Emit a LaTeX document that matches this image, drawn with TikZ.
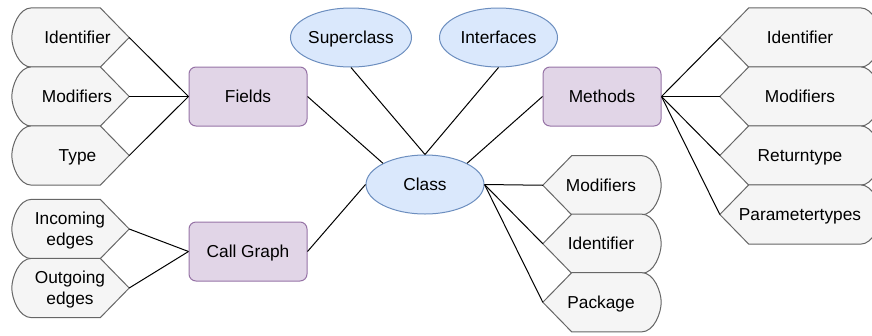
\documentclass[tikz,border=0pt]{standalone}
\usepackage{fontspec}
\setmainfont{Liberation Sans}
\usetikzlibrary{calc,shapes.geometric}
\definecolor{grayfill}{HTML}{F5F5F5}
\definecolor{graydraw}{HTML}{666666}
\definecolor{bluefill}{HTML}{DAE8FC}
\definecolor{bluedraw}{HTML}{6C8EBF}
\definecolor{purplefill}{HTML}{E1D5E7}
\definecolor{purpledraw}{HTML}{9673A6}
\tikzset{
  txt/.style={font=\fontsize{17.3}{20.5}\selectfont, text height=12.4pt, text depth=0pt},
  lbl/.style={txt, inner sep=0pt, align=center},
  twoline/.style={text height=32.9pt},
  hold/.style={rectangle, inner sep=0pt, minimum height=59pt, draw=none},
  disp/.style={draw=graydraw, fill=grayfill, line width=1pt, line join=round},
  boxst/.style={txt, rectangle, rounded corners=7pt, draw=purpledraw, fill=purplefill, line width=1pt,
    minimum width=118pt, minimum height=59pt, inner sep=0pt},
  ellst/.style={txt, ellipse, draw=bluedraw, fill=bluefill, line width=1pt,
    minimum width=118pt, minimum height=59pt, inner sep=0pt},
  conn/.style={draw=black, line width=1pt},
}
% shape pointing right (round left side)
\newcommand\dispL[7][]{%
  \node[hold, minimum width=#5pt] (#2) at (#3,#4) {};
  \draw[disp] ($(#2.north east)+(-29,0)$) -- (#2.east) -- ($(#2.south east)+(-29,0)$)
    -- ($(#2.south west)+(20,0)$) .. controls +(-13.33,0) and +(0,9.83) .. (#2.west)
    .. controls +(0,-9.83) and +(-13.33,0) .. ($(#2.north west)+(20,0)$) -- cycle;
  \node[lbl,#1] (#2t) at (#6,#4) {#7};
}
% shape pointing left (round right side)
\newcommand\dispR[6]{%
  \node[hold, minimum width=#4pt] (#1) at (#2,#3) {};
  \draw[disp] ($(#1.north west)+(29,0)$) -- (#1.west) -- ($(#1.south west)+(29,0)$)
    -- ($(#1.south east)+(-20,0)$) .. controls +(13.33,0) and +(0,9.83) .. (#1.east)
    .. controls +(0,-9.83) and +(13.33,0) .. ($(#1.north east)+(-20,0)$) -- cycle;
  \node[lbl] (#1t) at (#5,#3) {#6};
}
\begin{document}
\begin{tikzpicture}[x=1pt,y=-1pt]
\useasboundingbox (0,0) rectangle (872,335);

% central nodes
\node[ellst] (super) at (351,37.5) {Superclass};
\node[ellst] (inter) at (498.5,37.5) {Interfaces};
\node[ellst] (class) at (425,184.5) {Class};
\node[boxst] (fields) at (248,96.5) {Fields};
\node[boxst] (callg) at (248,251.5) {Call Graph};
\node[boxst] (methods) at (602,96.5) {Methods};

% left shapes
\dispL{fid}{70.5}{37.5}{117}{77.5}{Identifier}
\dispL{fmod}{70.5}{96.5}{117}{77}{Modifiers}
\dispL{ftype}{70.5}{155.5}{117}{77.5}{Type}
\dispL[twoline]{cin}{70.5}{229}{117}{70}{Incoming\\edges}
\dispL[twoline]{cout}{70.5}{288}{117}{70}{Outgoing\\edges}

% methods shapes
\dispR{mid}{800}{37.5}{160}{800}{Identifier}
\dispR{mmod}{800}{96.5}{160}{800}{Modifiers}
\dispR{mret}{800}{155.5}{160}{800}{Returntype}
\dispR{mpar}{800}{214.5}{160}{800}{Parametertypes}

% class shapes
\dispR{cmod}{602}{185.25}{118}{601}{Modifiers}
\dispR{cid}{602}{243.75}{118}{601}{Identifier}
\dispR{cpkg}{602}{302.25}{118}{601}{Package}

% connectors
\draw[conn] (fid.east) -- (fields.west);
\draw[conn] (fmod.east) -- (fields.west);
\draw[conn] (ftype.east) -- (fields.west);
\draw[conn] (cin.east) -- (callg.west);
\draw[conn] (cout.east) -- (callg.west);
\draw[conn] (fields.east) -- (class.north west);
\draw[conn] (callg.east) -- (class.west);
\draw[conn] (super.south) -- (class.north);
\draw[conn] (inter.south) -- (class.north);
\draw[conn] (methods.west) -- (class.north east);
\draw[conn] (methods.east) -- (mid.west);
\draw[conn] (methods.east) -- (mmod.west);
\draw[conn] (methods.east) -- (mret.west);
\draw[conn] (methods.east) -- (mpar.west);
\draw[conn] (class.east) -- (cmod.west);
\draw[conn] (class.east) -- (cid.west);
\draw[conn] (class.east) -- (cpkg.west);
\end{tikzpicture}
\end{document}
